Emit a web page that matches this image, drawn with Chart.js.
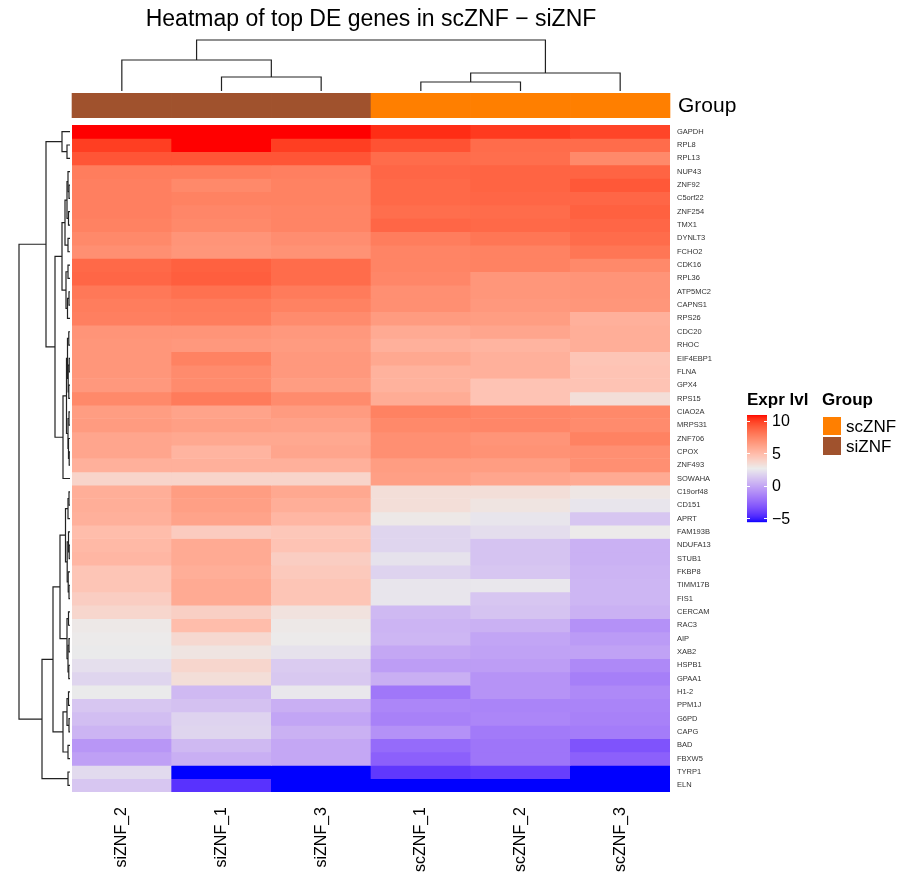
<!DOCTYPE html>
<html>
<head>
<meta charset="utf-8">
<script src="https://cdn.jsdelivr.net/npm/chart.js@4.4.1/dist/chart.umd.min.js"></script>
<style>
  html, body { margin: 0; padding: 0; background: #fff; }
  #wrap { width: 913px; height: 885px; position: relative; }
</style>
</head>
<body>
<div id="wrap"><canvas id="heatmap"></canvas></div>
<script>
const FONT = '"Liberation Sans", Arial, sans-serif';

// genes, top to bottom
const genes = ["GAPDH", "RPL8", "RPL13", "NUP43", "ZNF92", "C5orf22", "ZNF254", "TMX1", "DYNLT3", "FCHO2",
  "CDK16", "RPL36", "ATP5MC2", "CAPNS1", "RPS26", "CDC20", "RHOC", "EIF4EBP1", "FLNA", "GPX4",
  "RPS15", "CIAO2A", "MRPS31", "ZNF706", "CPOX", "ZNF493", "SOWAHA", "C19orf48", "CD151", "APRT",
  "FAM193B", "NDUFA13", "STUB1", "FKBP8", "TIMM17B", "FIS1", "CERCAM", "RAC3", "AIP", "XAB2",
  "HSPB1", "GPAA1", "H1-2", "PPM1J", "G6PD", "CAPG", "BAD", "FBXW5", "TYRP1", "ELN"];

// samples, left to right
const samples = ["siZNF_2", "siZNF_1", "siZNF_3", "scZNF_1", "scZNF_2", "scZNF_3"];
const sampleGroup = ["siZNF", "siZNF", "siZNF", "scZNF", "scZNF", "scZNF"];
const groupNames = ["scZNF", "siZNF"];
const groupColors = ["#FF7F00", "#A0522D"];

// expression per sample (same order as genes)
const siZNF_2 = [10.9, 10.0, 9.3, 7.8, 7.7, 7.7, 7.7, 7.6, 7.3, 7.0, 8.6, 8.7, 8.0, 7.8, 7.7, 6.8, 6.7, 6.7, 6.7, 6.6,
  7.3, 6.4, 6.5, 6.0, 6.0, 5.5, 3.8, 5.6, 5.6, 5.5, 4.9, 5.1, 5.2, 4.5, 4.5, 4.1, 3.7, 2.8, 2.7, 2.6,
  2.2, 1.8, 2.6, 1.2, 0.9, 0.5, -0.7, -0.3, 2.0, 1.2];
const siZNF_1 = [10.9, 10.9, 9.3, 7.8, 7.3, 7.6, 7.4, 7.3, 6.8, 6.7, 8.9, 9.0, 8.3, 7.9, 7.8, 6.8, 6.6, 7.6, 7.2, 7.2,
  7.9, 6.1, 6.3, 5.9, 5.3, 5.5, 3.8, 6.4, 6.3, 6.1, 4.2, 5.8, 5.8, 5.6, 5.8, 5.8, 4.0, 4.9, 3.6, 3.0,
  3.7, 3.3, 0.7, 1.0, 1.7, 1.8, 0.7, 0.3, -5.6, -4.5];
const siZNF_3 = [10.9, 10.0, 9.3, 7.7, 7.6, 7.6, 7.5, 7.5, 7.1, 6.9, 8.5, 8.5, 7.9, 7.6, 7.2, 6.6, 6.5, 6.6, 6.6, 6.4,
  7.2, 6.5, 6.2, 5.9, 6.0, 5.5, 3.8, 5.9, 5.6, 5.2, 4.4, 4.6, 4.1, 4.3, 4.5, 4.5, 3.1, 2.8, 2.7, 2.3,
  1.4, 1.3, 2.5, 0.3, -0.1, 0.4, 0.0, 0.0, -5.6, -5.6];
const scZNF_1 = [10.4, 9.4, 8.5, 8.7, 8.6, 8.6, 8.4, 8.7, 7.8, 7.5, 7.5, 7.4, 7.0, 7.0, 6.5, 5.8, 5.5, 5.9, 5.4, 5.4,
  5.7, 7.6, 7.3, 7.0, 7.0, 6.4, 6.3, 3.3, 3.3, 2.8, 1.8, 1.8, 2.3, 1.7, 2.4, 2.4, 0.7, 0.5, 0.6, 0.0,
  -0.4, 0.3, -1.9, -1.3, -1.5, -0.9, -2.4, -2.8, -4.3, -5.6];
const scZNF_2 = [10.1, 8.5, 8.4, 8.8, 8.8, 8.7, 8.5, 8.6, 8.1, 7.6, 7.6, 6.7, 6.7, 6.6, 6.4, 6.0, 5.3, 5.5, 5.5, 4.6,
  4.6, 7.4, 7.4, 6.8, 6.9, 6.4, 6.0, 3.3, 3.0, 2.4, 2.1, 1.1, 1.1, 1.2, 2.5, 1.2, 1.1, 0.4, -0.1, -0.2,
  -0.4, -0.8, -0.8, -1.4, -1.3, -1.8, -2.0, -2.0, -4.1, -5.6];
const scZNF_3 = [9.8, 8.5, 7.3, 8.8, 9.2, 8.7, 8.9, 8.7, 8.5, 8.1, 7.3, 6.8, 6.8, 6.7, 5.5, 5.6, 5.6, 4.5, 4.6, 4.6,
  3.3, 7.3, 7.2, 7.6, 7.0, 7.0, 5.8, 2.9, 2.4, 1.2, 2.7, 0.4, 0.4, 0.5, 0.6, 0.6, 0.4, -0.9, -0.5, -0.2,
  -1.2, -1.6, -1.2, -1.4, -1.5, -1.7, -3.3, -2.8, -5.6, -5.6];
const columns = [siZNF_2, siZNF_1, siZNF_3, scZNF_1, scZNF_2, scZNF_3];

// colour key
const colorBreaks = [-5.6, 2.65, 10.9];
const colorStops = ["#0000FF", "#EBEBEB", "#FF0000"];
const legendTicks = [-5, 0, 5, 10];

// clustering trees: [left, right, height], leaves are indices
const colTree = [[0, [1, 2, 14], 31], [[3, 4, 9], 5, 18], 51];
const rowTree = [
  [
    [0, [1, 2, 3], 8],
    [
      [[[[3, [4, 5, 1], 2], [6, 7, 1.5], 3], [8, 9, 2], 5], [[10, 11, 2], [[12, 13, 1], 14, 2.5], 4], 8],
      [[[[15, 16, 1.2], [[17, 18, 0.8], [19, 20, 1.2], 1.8], 2.5], [[21, 22, 1], [23, [24, 25, 0.8], 1.5], 2], 3.5], 26, 7],
      15
    ],
    24
  ],
  [
    [
      [[[[27, 28, 1], 29, 2], [[30, [31, 32, 0.8], 1.5], [33, [34, 35, 1], 1.8], 2.8], 4.5],
       [[36, 37, 1.5], [[38, 39, 1], [40, 41, 1.2], 2], 3], 10],
      [[[42, 43, 1.5], [44, 45, 1], 3], [46, 47, 2], 7],
      17
    ],
    [48, 49, 2],
    28
  ],
  51
];

// LAB interpolation like colorRamp2
const lin = (c) => { c /= 255; return c <= 0.04045 ? c / 12.92 : Math.pow((c + 0.055) / 1.055, 2.4); };
const gam = (c) => {
  c = c <= 0.0031308 ? 12.92 * c : 1.055 * Math.pow(c, 1 / 2.4) - 0.055;
  return Math.round(Math.min(1, Math.max(0, c)) * 255);
};
const hexToRgb = (h) => [1, 3, 5].map((i) => parseInt(h.slice(i, i + 2), 16));
function rgbToLab(rgb) {
  const [r, g, b] = rgb.map(lin);
  const x = (0.4124 * r + 0.3576 * g + 0.1805 * b) / 0.95047;
  const y = 0.2126 * r + 0.7152 * g + 0.0722 * b;
  const z = (0.0193 * r + 0.1192 * g + 0.9505 * b) / 1.08883;
  const f = (t) => (t > 0.008856 ? Math.cbrt(t) : 7.787 * t + 16 / 116);
  return [116 * f(y) - 16, 500 * (f(x) - f(y)), 200 * (f(y) - f(z))];
}
function labToRgb([L, a, bb]) {
  const fy = (L + 16) / 116, fx = fy + a / 500, fz = fy - bb / 200;
  const fi = (t) => (t ** 3 > 0.008856 ? t ** 3 : (t - 16 / 116) / 7.787);
  const x = fi(fx) * 0.95047, y = fi(fy), z = fi(fz) * 1.08883;
  const r = 3.2406 * x - 1.5372 * y - 0.4986 * z;
  const g = -0.9689 * x + 1.8758 * y + 0.0415 * z;
  const b = 0.0557 * x - 0.204 * y + 1.057 * z;
  return `rgb(${gam(r)},${gam(g)},${gam(b)})`;
}
const stopLabs = colorStops.map((c) => rgbToLab(hexToRgb(c)));
function colorFor(v) {
  const [lo, mid, hi] = colorBreaks;
  v = Math.min(hi, Math.max(lo, v));
  const seg = v < mid ? 0 : 1;
  const a = colorBreaks[seg], b = colorBreaks[seg + 1];
  const t = (v - a) / (b - a);
  const A = stopLabs[seg], B = stopLabs[seg + 1];
  return labToRgb(A.map((x, i) => x + (B[i] - x) * t));
}

// one dataset per gene row, each cell a floating bar [row, row + 1]
const datasets = genes.map((g, r) => ({
  label: g,
  data: samples.map(() => [r, r + 1]),
  backgroundColor: columns.map((col) => colorFor(col[r])),
  borderWidth: 0,
  barPercentage: 1,
  categoryPercentage: 1,
  grouped: false,
}));

function drawTree(ctx, node, leafPos, toPix, rows) {
  if (typeof node === "number") return { c: leafPos(node), h: 0 };
  const a = drawTree(ctx, node[0], leafPos, toPix, rows);
  const b = drawTree(ctx, node[1], leafPos, toPix, rows);
  const h = node[2];
  ctx.beginPath();
  if (rows) {
    ctx.moveTo(toPix(a.h), a.c); ctx.lineTo(toPix(h), a.c);
    ctx.lineTo(toPix(h), b.c); ctx.lineTo(toPix(b.h), b.c);
  } else {
    ctx.moveTo(a.c, toPix(a.h)); ctx.lineTo(a.c, toPix(h));
    ctx.lineTo(b.c, toPix(h)); ctx.lineTo(b.c, toPix(b.h));
  }
  ctx.stroke();
  return { c: (a.c + b.c) / 2, h };
}

const decorations = {
  id: "decorations",
  afterDraw(chart) {
    const { ctx, chartArea: area, scales: { x, y } } = chart;
    const colW = area.width / samples.length;
    const barTop = area.top - 32, barH = 25;
    ctx.save();

    // title
    ctx.fillStyle = "#000";
    ctx.font = `23px ${FONT}`;
    ctx.textAlign = "center";
    ctx.textBaseline = "alphabetic";
    ctx.fillText("Heatmap of top DE genes in scZNF \u2212 siZNF", (area.left + area.right) / 2, 26);

    // group annotation
    sampleGroup.forEach((g, i) => {
      ctx.fillStyle = groupColors[groupNames.indexOf(g)];
      const cx = x.getPixelForValue(i);
      ctx.fillRect(cx - colW / 2 - 0.3, barTop, colW + 0.6, barH);
    });
    ctx.fillStyle = "#000";
    ctx.font = `21px ${FONT}`;
    ctx.textAlign = "left";
    ctx.textBaseline = "middle";
    ctx.fillText("Group", area.right + 8, barTop + barH / 2 + 1);

    // dendrograms
    ctx.strokeStyle = "#222";
    ctx.lineWidth = 1.2;
    drawTree(ctx, colTree, (i) => x.getPixelForValue(i), (h) => barTop - 2 - h, false);
    drawTree(ctx, rowTree, (i) => y.getPixelForValue(i + 0.5), (h) => area.left - 2 - h, true);

    // colour key
    const kx = 747, kw = 20, kTop = 415, kBot = 522;
    const [lo, , hi] = colorBreaks;
    const vy = (v) => kBot - ((v - lo) / (hi - lo)) * (kBot - kTop);
    for (let py = kTop; py < kBot; py++) {
      const v = hi - ((py + 0.5 - kTop) / (kBot - kTop)) * (hi - lo);
      ctx.fillStyle = colorFor(v);
      ctx.fillRect(kx, py, kw, 1.2);
    }
    ctx.strokeStyle = "#fff";
    ctx.lineWidth = 1;
    legendTicks.forEach((t) => {
      const ty = Math.round(vy(t)) + 0.5;
      ctx.beginPath();
      ctx.moveTo(kx, ty); ctx.lineTo(kx + 3, ty);
      ctx.moveTo(kx + kw - 3, ty); ctx.lineTo(kx + kw, ty);
      ctx.stroke();
    });
    ctx.fillStyle = "#000";
    ctx.font = `bold 17px ${FONT}`;
    ctx.textBaseline = "alphabetic";
    ctx.fillText("Expr lvl", kx, 405);
    ctx.font = `16px ${FONT}`;
    ctx.textBaseline = "middle";
    legendTicks.forEach((t) => {
      ctx.fillText(t < 0 ? "\u2212" + Math.abs(t) : String(t), kx + kw + 5, vy(t) + 1);
    });

    // group key
    const gx = 823;
    ctx.font = `bold 17px ${FONT}`;
    ctx.textBaseline = "alphabetic";
    ctx.fillText("Group", gx - 1, 405);
    ctx.font = `17px ${FONT}`;
    ctx.textBaseline = "middle";
    groupNames.forEach((g, i) => {
      const gy = 417 + i * 20;
      ctx.fillStyle = groupColors[i];
      ctx.fillRect(gx, gy, 18, 18);
      ctx.fillStyle = "#000";
      ctx.fillText(g, gx + 23, gy + 10);
    });
    ctx.restore();
  },
};

new Chart(document.getElementById("heatmap"), {
  type: "bar",
  data: { labels: samples, datasets },
  options: {
    responsive: true,
    maintainAspectRatio: false,
    animation: false,
    events: [],
    layout: { padding: { left: 72, top: 125, right: 193, bottom: 13 } },
    plugins: { legend: { display: false }, title: { display: false }, tooltip: { enabled: false } },
    scales: {
      x: {
        type: "category",
        offset: true,
        grid: { display: false, drawTicks: false },
        border: { display: false },
        ticks: {
          autoSkip: false,
          maxRotation: 90,
          minRotation: 90,
          padding: 15,
          color: "#000",
          font: { size: 16, family: FONT },
        },
        afterFit: (s) => { s.height = 80; },
      },
      y: {
        type: "linear",
        position: "right",
        min: 0,
        max: genes.length,
        reverse: true,
        grid: { display: false, drawTicks: false },
        border: { display: false },
        afterBuildTicks: (s) => { s.ticks = genes.map((_, i) => ({ value: i + 0.5 })); },
        ticks: {
          autoSkip: false,
          padding: 7,
          color: "#333",
          font: { size: 7.5, family: FONT },
          callback: (v, i) => genes[i],
        },
        afterFit: (s) => { s.width = 50; },
      },
    },
  },
  plugins: [decorations],
});
</script>
</body>
</html>
